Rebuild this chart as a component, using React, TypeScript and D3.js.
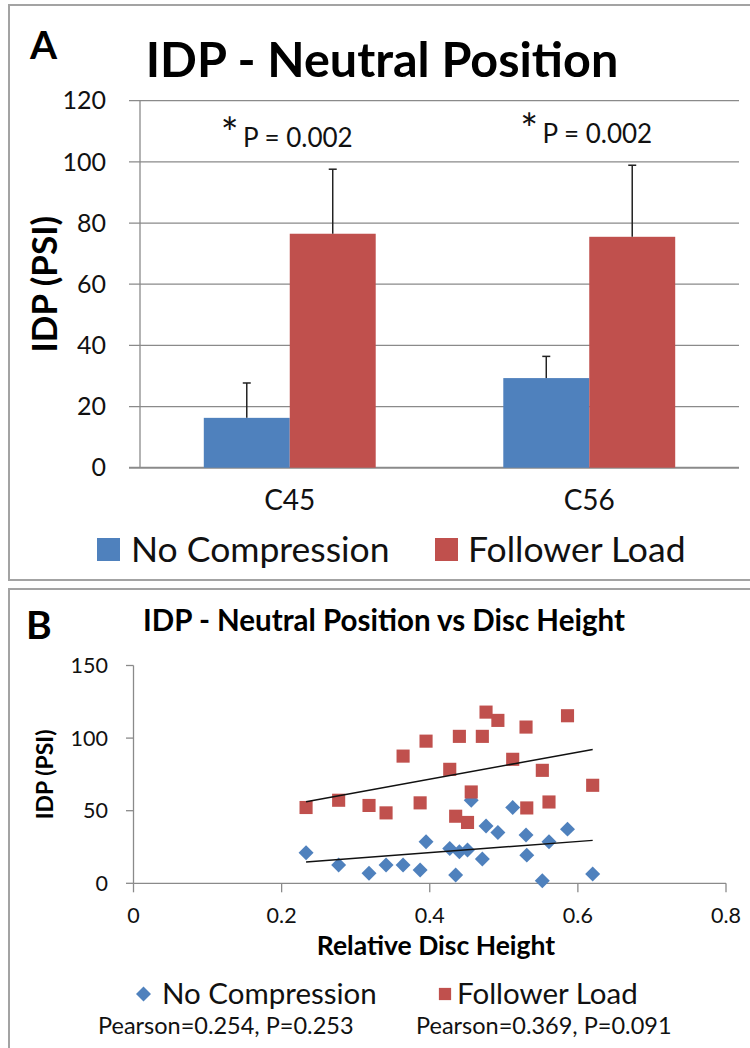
import React from 'react';
import * as d3 from 'd3';

// Panel A: mean intradiscal pressure per level, with upward SD bars
const categories = ['C45', 'C56'];
const seriesNames = ['No Compression', 'Follower Load'];
const noCompressionMean = [16.3, 29.3];
const noCompressionSD = [11.4, 7.1];
const followerLoadMean = [76.5, 75.5];
const followerLoadSD = [21.1, 23.4];
const pLabels = ['P = 0.002', 'P = 0.002'];
const yTicksA = [0, 20, 40, 60, 80, 100, 120];

// Panel B: IDP against relative disc height, one point per specimen
const discHeight = [0.233, 0.277, 0.318, 0.341, 0.364, 0.387, 0.395, 0.427, 0.435, 0.44, 0.451, 0.456, 0.471, 0.476, 0.492, 0.512, 0.53, 0.531, 0.552, 0.561, 0.586, 0.62];
const idpNoCompression = [21.0, 12.6, 6.9, 12.6, 12.6, 9.1, 28.6, 24.0, 5.7, 21.7, 22.9, 57.2, 16.7, 39.4, 35.0, 52.2, 33.2, 19.4, 1.8, 28.6, 37.3, 6.4];
const idpFollowerLoad = [52.2, 57.2, 53.6, 48.5, 87.6, 55.4, 97.9, 78.5, 46.2, 101.2, 41.9, 62.9, 101.2, 117.9, 112.2, 85.4, 107.6, 51.9, 77.8, 56.0, 115.4, 67.5];
const xTicksB = [0, 0.2, 0.4, 0.6, 0.8];
const yTicksB = [0, 50, 100, 150];
const pearsonLabels = ['Pearson=0.254, P=0.253', 'Pearson=0.369, P=0.091'];

const BLUE = '#4F81BD';
const RED = '#C0504D';
const AXIS = '#8a8a8a';
const FONT = 'Lato, "Open Sans", sans-serif';

function linearFit(xs: number[], ys: number[]) {
  const mx = d3.mean(xs)!;
  const my = d3.mean(ys)!;
  let sxy = 0;
  let sxx = 0;
  xs.forEach((x, i) => {
    sxy += (x - mx) * (ys[i] - my);
    sxx += (x - mx) * (x - mx);
  });
  const slope = sxy / sxx;
  return (x: number) => my + slope * (x - mx);
}

function PanelA() {
  const left = 140;
  const right = 739;
  const y = d3.scaleLinear().domain([0, 120]).range([467.7, 100.7]);
  const x0 = d3.scaleBand<string>().domain(categories).range([left, right]).paddingInner(0.426).paddingOuter(0.213);
  const x1 = d3.scaleBand<string>().domain(seriesNames).range([0, x0.bandwidth()]);
  const means = [noCompressionMean, followerLoadMean];
  const sds = [noCompressionSD, followerLoadSD];
  const colors = [BLUE, RED];
  const cap = 4;

  return (
    <g fontFamily={FONT}>
      <rect x={9} y={5} width={760} height={575} fill="#fff" stroke="#a3a3a3" strokeWidth={2} />
      <text x={30} y={59} fontSize={39} fontWeight="bold">A</text>
      <text x={382} y={77} fontSize={48.5} fontWeight="bold" textAnchor="middle">IDP - Neutral Position</text>

      {yTicksA.map((t) => (
        <g key={t}>
          <line x1={129} x2={right} y1={y(t)} y2={y(t)} stroke={AXIS} strokeWidth={t === 0 ? 2 : 1.3} />
          <text x={106} y={y(t)} dy="0.35em" fontSize={25} textAnchor="end" fill="#111">{t}</text>
        </g>
      ))}
      <line x1={left} x2={left} y1={y(120)} y2={y(0)} stroke={AXIS} strokeWidth={1.3} />

      {categories.map((c, ci) => {
        const cx0 = x0(c)! + x0.bandwidth() / 2;
        const base = ci === 0 ? 147 : 143;
        return (
          <g key={c}>
            {seriesNames.map((s, si) => {
              const bx = x0(c)! + x1(s)!;
              const v = means[si][ci];
              const cx = bx + x1.bandwidth() / 2;
              const top = y(v + sds[si][ci]);
              return (
                <g key={s}>
                  <rect x={bx} y={y(v)} width={x1.bandwidth()} height={y(0) - y(v)} fill={colors[si]} />
                  <line x1={cx} x2={cx} y1={y(v)} y2={top} stroke="#222" strokeWidth={1.5} />
                  <line x1={cx - cap} x2={cx + cap} y1={top} y2={top} stroke="#222" strokeWidth={1.5} />
                </g>
              );
            })}
            <text x={cx0} y={510} fontSize={28} textAnchor="middle" fill="#111">{c}</text>
            <text x={cx0 - 60} y={base + 1} fontSize={42} textAnchor="middle" fill="#111">*</text>
            <text x={cx0 + 8} y={base} fontSize={26} textAnchor="middle" fill="#111">{pLabels[ci]}</text>
          </g>
        );
      })}

      <text transform={`translate(57, ${(y(0) + y(120)) / 2}) rotate(-90)`} fontSize={35} fontWeight="bold" textAnchor="middle">IDP (PSI)</text>

      <rect x={97} y={538} width={23} height={23} fill={BLUE} />
      <text x={131} y={562} fontSize={35.5} fill="#111">{seriesNames[0]}</text>
      <rect x={435} y={538} width={23} height={23} fill={RED} />
      <text x={468} y={562} fontSize={35.5} fill="#111">{seriesNames[1]}</text>
    </g>
  );
}

function PanelB() {
  const x = d3.scaleLinear().domain([0, 0.8]).range([133.5, 726]);
  const y = d3.scaleLinear().domain([0, 150]).range([883.3, 665.5]);
  const diamond = d3.symbol(d3.symbolSquare, 112)()!;
  const square = d3.symbol(d3.symbolSquare, 172)()!;
  const xMin = d3.min(discHeight)!;
  const xMax = d3.max(discHeight)!;
  const fitBlue = linearFit(discHeight, idpNoCompression);
  const fitRed = linearFit(discHeight, idpFollowerLoad);

  return (
    <g fontFamily={FONT}>
      <rect x={9} y={589} width={760} height={480} fill="#fff" stroke="#a3a3a3" strokeWidth={2} />
      <text x={26} y={639} fontSize={39} fontWeight="bold">B</text>
      <text x={384} y={631} fontSize={29.5} fontWeight="bold" textAnchor="middle">IDP - Neutral Position vs Disc Height</text>

      <line x1={x(0)} x2={x(0)} y1={y(150)} y2={y(0)} stroke={AXIS} strokeWidth={1.3} />
      {yTicksB.map((t) => (
        <g key={t}>
          <line x1={126} x2={x(0)} y1={y(t)} y2={y(t)} stroke={AXIS} strokeWidth={1.3} />
          <text x={108} y={y(t)} dy="0.35em" fontSize={21.5} textAnchor="end" fill="#111">{t}</text>
        </g>
      ))}
      <line x1={x(0)} x2={x(0.8)} y1={y(0)} y2={y(0)} stroke={AXIS} strokeWidth={1.3} />
      {xTicksB.map((t) => (
        <g key={t}>
          <line x1={x(t)} x2={x(t)} y1={y(0)} y2={y(0) + 9} stroke={AXIS} strokeWidth={1.3} />
          <text x={x(t)} y={923} fontSize={21.5} textAnchor="middle" fill="#111">{t}</text>
        </g>
      ))}
      <text x={436} y={955} fontSize={26.5} fontWeight="bold" textAnchor="middle">Relative Disc Height</text>
      <text transform={`translate(53, ${(y(0) + y(150)) / 2}) rotate(-90)`} fontSize={23} fontWeight="bold" textAnchor="middle">IDP (PSI)</text>

      {discHeight.map((d, i) => (
        <path key={'b' + i} d={diamond} transform={`translate(${x(d)},${y(idpNoCompression[i])}) rotate(45)`} fill={BLUE} />
      ))}
      {discHeight.map((d, i) => (
        <path key={'r' + i} d={square} transform={`translate(${x(d)},${y(idpFollowerLoad[i])})`} fill={RED} />
      ))}
      <line x1={x(xMin)} x2={x(xMax)} y1={y(fitBlue(xMin))} y2={y(fitBlue(xMax))} stroke="#111" strokeWidth={1.5} />
      <line x1={x(xMin)} x2={x(xMax)} y1={y(fitRed(xMin))} y2={y(fitRed(xMax))} stroke="#111" strokeWidth={1.5} />

      <path d={diamond} transform="translate(143.5,994) rotate(45)" fill={BLUE} />
      <text x={162} y={1004} fontSize={29.5} fill="#111">{seriesNames[0]}</text>
      <path d={d3.symbol(d3.symbolSquare, 150)()!} transform="translate(445,994)" fill={RED} />
      <text x={457} y={1004} fontSize={29.5} fill="#111">{seriesNames[1]}</text>
      <text x={98} y={1034} fontSize={23.5} fill="#111">{pearsonLabels[0]}</text>
      <text x={416} y={1034} fontSize={23.5} fill="#111">{pearsonLabels[1]}</text>
    </g>
  );
}

export default function App() {
  return (
    <svg width={750} height={1048} style={{ position: 'absolute', left: 0, top: 0, background: '#fff' }}>
      <rect width={750} height={1048} fill="#fff" />
      <PanelA />
      <PanelB />
    </svg>
  );
}
